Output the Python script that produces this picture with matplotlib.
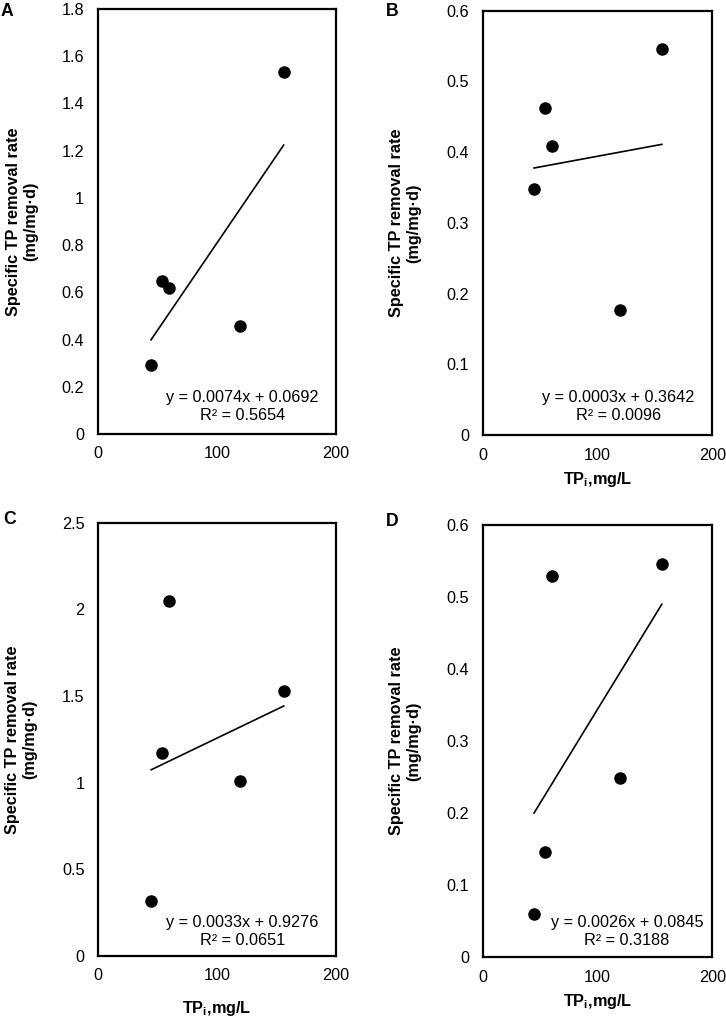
import numpy as np
import matplotlib
matplotlib.use("Agg")
import matplotlib.pyplot as plt

plt.rcParams['font.family'] = ['Liberation Sans', 'DejaVu Sans']
plt.rcParams['mathtext.fontset'] = 'custom'
plt.rcParams['mathtext.rm'] = 'Liberation Sans'
plt.rcParams['mathtext.bf'] = 'Liberation Sans:bold'
plt.rcParams['mathtext.it'] = 'Liberation Sans:italic'

# concentraciones iniciales (mismas en los cuatro paneles)
tp_i = [44.5, 53.8, 59.8, 119.6, 156.0]

rate_a = [0.294, 0.650, 0.620, 0.456, 1.534]
rate_b = [0.348, 0.463, 0.408, 0.177, 0.546]
rate_c = [0.319, 1.173, 2.048, 1.012, 1.531]
rate_d = [0.060, 0.146, 0.529, 0.249, 0.546]

# ecuaciones de las lineas de tendencia
slopes = [0.0074, 0.0003, 0.0033, 0.0026]
intercepts = [0.0692, 0.3642, 0.9276, 0.0845]
r2 = [0.5654, 0.0096, 0.0651, 0.3188]

letters = ['A', 'B', 'C', 'D']
xticks = [0, 100, 200]
yticks_a = [0, 0.2, 0.4, 0.6, 0.8, 1, 1.2, 1.4, 1.6, 1.8]
yticks_b = [0, 0.1, 0.2, 0.3, 0.4, 0.5, 0.6]
yticks_c = [0, 0.5, 1, 1.5, 2, 2.5]
yticks_d = [0, 0.1, 0.2, 0.3, 0.4, 0.5, 0.6]

rates = [rate_a, rate_b, rate_c, rate_d]
yticks = [yticks_a, yticks_b, yticks_c, yticks_d]

W, H = 726, 1024
# cajas en pixeles (izq, arriba, ancho, alto)
boxes = [(98, 9, 238, 425), (483, 10.7, 229.3, 424.3),
         (98.3, 522.7, 237.7, 433.3), (483, 525, 229.3, 432.3)]
eq_pos = [(0.607, 0.064), (0.590, 0.067), (0.607, 0.056), (0.627, 0.060)]
xlab_y = [None, -0.106, -0.122, -0.103]
ylab_x = [-0.319, -0.338, -0.325, -0.338]
letter_pos = [(7, 12), (392, 12), (10, 519), (392, 521)]

fs = 11.7
fig = plt.figure(figsize=(W / 100, H / 100), dpi=100)

for i in range(4):
    l, t, w, h = boxes[i]
    ax = fig.add_axes([l / W, 1 - (t + h) / H, w / W, h / H])
    x = np.array(tp_i)
    y = np.array(rates[i])
    ax.plot(x, y, 'o', color='black', markersize=8, zorder=3)
    xl = np.array([x.min(), x.max()])
    ax.plot(xl, slopes[i] * xl + intercepts[i], color='black', lw=1.2)

    ax.set_xlim(0, 200)
    ax.set_ylim(yticks[i][0], yticks[i][-1])
    ax.set_xticks(xticks)
    ax.set_xticklabels([f'{v:g}' for v in xticks])
    ax.set_yticks(yticks[i])
    ax.set_yticklabels([f'{v:g}' for v in yticks[i]])
    ax.tick_params(length=0, labelsize=fs, colors='black')
    ax.tick_params(axis='y', pad=10)
    ax.tick_params(axis='x', pad=9)
    for s in ax.spines.values():
        s.set_linewidth(1.6)
        s.set_color('black')

    ax.text(eq_pos[i][0], eq_pos[i][1],
            f'y = {slopes[i]:.4f}x + {intercepts[i]:.4f}\nR² = {r2[i]:.4f}',
            transform=ax.transAxes, ha='center', va='center',
            fontsize=fs, color='black', multialignment='center', linespacing=1.25)

    ax.set_ylabel('Specific TP removal rate\n(mg/mg·d)', fontsize=fs,
                  fontweight='bold', color='black', linespacing=1.2)
    ax.yaxis.set_label_coords(ylab_x[i], 0.5)
    ax.yaxis.label.set_va('center')

    if xlab_y[i] is not None:
        ax.set_xlabel(r'TP$_\mathbf{i}$,mg/L', fontsize=fs, fontweight='bold',
                      color='black')
        ax.xaxis.set_label_coords(0.5, xlab_y[i])
        ax.xaxis.label.set_va('center')

    fig.text(letter_pos[i][0] / W, 1 - letter_pos[i][1] / H, letters[i],
             fontsize=fs + 1, fontweight='bold', ha='center', va='center')

fig.savefig('out.png', dpi=100)
